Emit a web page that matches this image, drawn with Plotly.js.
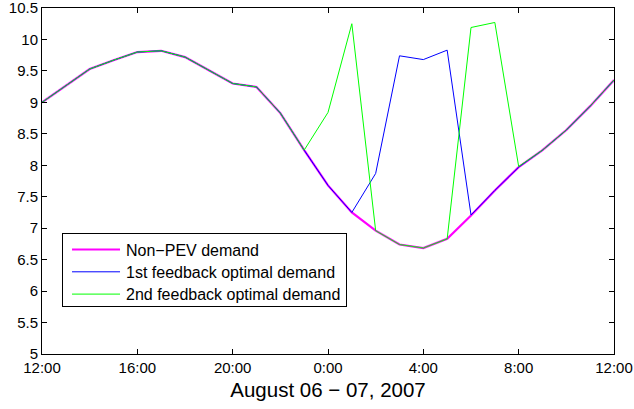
<!DOCTYPE html>
<html>
<head>
<meta charset="utf-8">
<script src="https://cdn.plot.ly/plotly-3.0.1.min.js"></script>
<style>html,body{margin:0;padding:0;background:#fff;}#chart{width:634px;height:409px;}</style>
</head>
<body>
<div id="chart"></div>
<script>
// Hours after 12:00 on August 06, 2007
var hours = [0,1,2,3,4,5,6,7,8,9,10,11,12,13,14,15,16,17,18,19,20,21,22,23,24];
var nonPEV = [9.00,9.27,9.53,9.67,9.80,9.82,9.72,9.51,9.30,9.245,8.83,8.24,7.68,7.25,6.96,6.74,6.685,6.83,7.20,7.60,7.97,8.24,8.56,8.94,9.355];
var feedback1 = [9.00,9.27,9.53,9.67,9.80,9.82,9.72,9.51,9.30,9.245,8.83,8.24,7.68,7.25,7.87,9.74,9.68,9.83,7.21,7.60,7.97,8.24,8.56,8.94,9.355];
var feedback2 = [9.00,9.27,9.53,9.67,9.80,9.82,9.72,9.51,9.30,9.245,8.83,8.24,8.84,10.25,6.96,6.74,6.685,6.83,10.19,10.27,7.98,8.24,8.56,8.94,9.355];
var tickHours = [0,4,8,12,16,20,24];
var tickLabels = ['12:00','16:00','20:00','0:00','4:00','8:00','12:00'];
var yTicks = [5,5.5,6,6.5,7,7.5,8,8.5,9,9.5,10,10.5];
var yTickLabels = ['5','5.5','6','6.5','7','7.5','8','8.5','9','9.5','10','10.5'];

var font = 'Liberation Sans, Arial, Helvetica, sans-serif';
var traces = [
  {x: hours, y: nonPEV, mode: 'lines', name: 'Non\u2212PEV demand', line: {color: '#ff00ff', width: 2.2}},
  {x: hours, y: feedback1, mode: 'lines', name: '1st feedback optimal demand', line: {color: '#0000ff', width: 1}},
  {x: hours, y: feedback2, mode: 'lines', name: '2nd feedback optimal demand', line: {color: '#00ff00', width: 1}}
];
var layout = {
  width: 634, height: 409,
  margin: {l: 42, r: 20, t: 8, b: 55},
  paper_bgcolor: '#ffffff', plot_bgcolor: '#ffffff',
  font: {family: font, size: 15, color: '#000'},
  showlegend: true,
  legend: {
    x: 0.035, y: 0.35, xanchor: 'left', yanchor: 'top',
    bgcolor: '#ffffff', bordercolor: '#000', borderwidth: 1,
    font: {family: font, size: 16, color: '#000'},
    itemwidth: 53,
    tracegroupgap: 0
  },
  xaxis: {
    range: [0, 24], tickmode: 'array', tickvals: tickHours, ticktext: tickLabels,
    ticks: 'inside', ticklen: 5, tickcolor: '#000', tickwidth: 1,
    showline: true, linecolor: '#000', linewidth: 1, mirror: 'ticks',
    showgrid: false, zeroline: false, ticklabeloverflow: 'allow',
    tickfont: {family: font, size: 15, color: '#000'},
    title: {text: 'August 06 \u2212 07, 2007', font: {family: font, size: 20.5, color: '#000'}, standoff: 7}
  },
  yaxis: {
    range: [5, 10.5], tickmode: 'array', tickvals: yTicks, ticktext: yTickLabels,
    ticks: 'inside', ticklen: 5, tickcolor: '#000', tickwidth: 1,
    showline: true, linecolor: '#000', linewidth: 1, mirror: 'ticks',
    showgrid: false, zeroline: false, ticklabeloverflow: 'allow',
    tickfont: {family: font, size: 15, color: '#000'}
  }
};
Plotly.newPlot('chart', traces, layout, {staticPlot: true, displayModeBar: false}).then(function (gd) {
  var paths = gd.querySelectorAll('.legend .legendlines path');
  paths.forEach(function (p) { p.setAttribute('d', 'M9,0h48'); });
  // tighten legend row spacing to match the reference
  var items = gd.querySelectorAll('.legend .traces');
  var first = null;
  items.forEach(function (g, i) {
    var m = /translate\(([-\d.]+)[ ,]+([-\d.]+)\)/.exec(g.getAttribute('transform') || '');
    if (!m) return;
    var tx = parseFloat(m[1]), ty = parseFloat(m[2]);
    if (first === null) first = ty - 1.3;
    g.setAttribute('transform', 'translate(' + tx + ',' + (first + i * 22.3) + ')');
  });
  var bg = gd.querySelector('.legend .bg');
  if (bg) bg.setAttribute('height', 73);
});
</script>
</body>
</html>
